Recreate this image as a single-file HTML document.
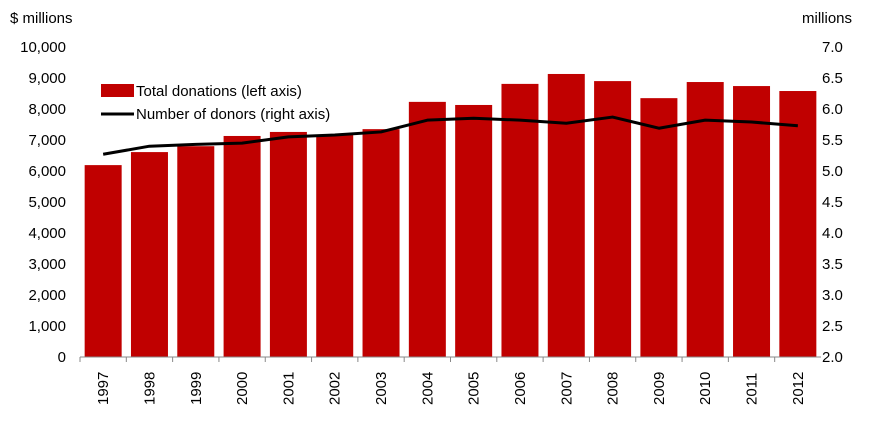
<!DOCTYPE html>
<html><head><meta charset="utf-8"><style>
body{margin:0;background:#fff;width:871px;height:418px;overflow:hidden}
text{font-family:"Liberation Sans",sans-serif;font-size:15px;fill:#000}
</style></head><body>
<svg id="chart" width="871" height="418" xmlns="http://www.w3.org/2000/svg"></svg>
<script>
const years=["1997","1998","1999","2000","2001","2002","2003","2004","2005","2006","2007","2008","2009","2010","2011","2012"];
const donations=[6190,6610,6800,7130,7260,7160,7350,8230,8130,8810,9130,8900,8350,8870,8740,8580];
const donors=[5.27,5.40,5.43,5.45,5.55,5.58,5.63,5.82,5.85,5.82,5.77,5.87,5.69,5.82,5.79,5.73];
const leftTicks=[0,1000,2000,3000,4000,5000,6000,7000,8000,9000,10000];
const rightTicks=[2.0,2.5,3.0,3.5,4.0,4.5,5.0,5.5,6.0,6.5,7.0];
const NS="http://www.w3.org/2000/svg",svg=document.getElementById('chart');
const x0=80,x1=821,yB=357,yT=47,step=(x1-x0)/years.length;
const yL=v=>yB-(v/10000)*(yB-yT), yR=v=>yB-((v-2)/5)*(yB-yT), xc=i=>x0+step*(i+0.5);
function mk(t,a,p){const e=document.createElementNS(NS,t);for(const k in a)e.setAttribute(k,a[k]);(p||svg).appendChild(e);return e;}
leftTicks.forEach(v=>{const t=mk('text',{x:66,y:yL(v)+5,'text-anchor':'end'});t.textContent=v.toLocaleString('en-US');

});
rightTicks.forEach(v=>{const t=mk('text',{x:822,y:yR(v)+5});t.textContent=v.toFixed(1);

});
let t=mk('text',{x:10,y:23});t.textContent='$ millions';


t=mk('text',{x:802,y:23});t.textContent='millions';


donations.forEach((v,i)=>{const r=mk('rect',{x:xc(i)-18.5,y:yL(v),width:37,height:yB-yL(v),fill:'#c00000'});

});
const ax=mk('line',{x1:x0,x2:x1,y1:yB,y2:yB,stroke:'#888','stroke-width':1});


years.forEach((y,i)=>{const tk=mk('line',{x1:x0+step*i,x2:x0+step*i,y1:yB,y2:yB+5,stroke:'#888'});


const l=mk('text',{transform:`translate(${xc(i)+5},${yB+48}) rotate(-90)`});l.textContent=y;

});
const pl=mk('polyline',{points:donors.map((v,i)=>xc(i)+','+yR(v)).join(' '),fill:'none',stroke:'#000','stroke-width':3,'stroke-linejoin':'round'});


const lg=mk('g',{});


let r=mk('rect',{x:101,y:84,width:33,height:13,fill:'#c00000'},lg);


t=mk('text',{x:136,y:96},lg);t.textContent='Total donations (left axis)';


r=mk('line',{x1:101,x2:134,y1:114,y2:114,stroke:'#000','stroke-width':3},lg);


t=mk('text',{x:136,y:119},lg);t.textContent='Number of donors (right axis)';


</script>
</body></html>
